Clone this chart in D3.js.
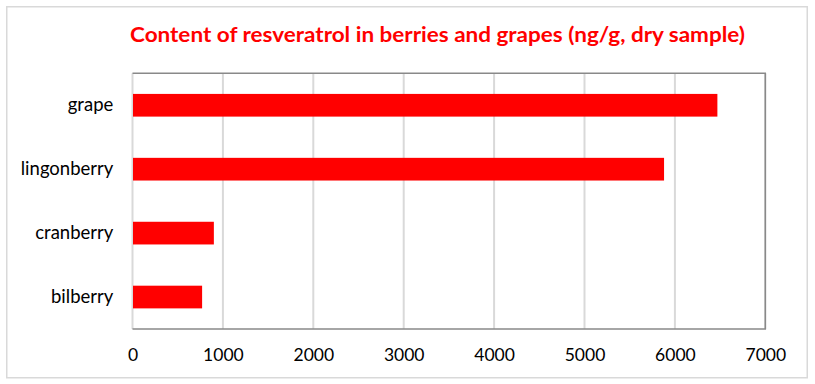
<!DOCTYPE html>
<html>
<head>
<meta charset="utf-8">
<script src="https://cdn.jsdelivr.net/npm/d3@7"></script>
<style>
  html, body { margin: 0; padding: 0; background: #fff; }
  svg { display: block; }
</style>
</head>
<body>
<svg id="chart" width="815" height="384"></svg>
<script>
// ---- data ----
const categories = ["grape", "lingonberry", "cranberry", "bilberry"];
const values = [6470, 5880, 900, 770];
const xTicks = [0, 1000, 2000, 3000, 4000, 5000, 6000, 7000];
const title = "Content of resveratrol in berries and grapes (ng/g, dry sample)";

const svg = d3.select("#chart");
const W = 815, H = 384;
const plot = { left: 132.5, right: 765.3, top: 73.3, bottom: 329 };

// outer border
svg.append("rect")
  .attr("x", 6.75).attr("y", 6.75)
  .attr("width", 800.5).attr("height", 371)
  .attr("fill", "#fff")
  .attr("stroke", "#d9d9d9").attr("stroke-width", 1.5);

// title
svg.append("text")
  .attr("x", 130).attr("y", 41.7)
  .attr("font-family", "Lato, 'Open Sans', sans-serif")
  .attr("font-weight", "bold")
  .attr("font-size", 21)
  .attr("fill", "#ff0000")
  .attr("textLength", 615)
  .attr("lengthAdjust", "spacingAndGlyphs")
  .text(title);

const x = d3.scaleLinear().domain([0, 7000]).range([plot.left, plot.right]);
const y = d3.scaleBand().domain(categories).range([plot.top, plot.bottom])
  .paddingInner(0.645).paddingOuter(0.3225);

// gridlines
svg.append("g").selectAll("line").data(xTicks).join("line")
  .attr("x1", d => x(d)).attr("x2", d => x(d))
  .attr("y1", plot.top).attr("y2", plot.bottom)
  .attr("stroke", "#d9d9d9").attr("stroke-width", 2);

// plot border top/right/bottom
svg.append("path")
  .attr("d", `M${plot.left},${plot.top}H${plot.right}V${plot.bottom}H${plot.left}`)
  .attr("fill", "none")
  .attr("stroke", "#898989").attr("stroke-width", 1.5);

// bars
svg.append("g").selectAll("rect").data(categories).join("rect")
  .attr("x", x(0) + 0.5)
  .attr("y", d => y(d))
  .attr("width", (d, i) => x(values[i]) - x(0) - 0.5)
  .attr("height", y.bandwidth())
  .attr("fill", "#ff0000");

// x axis labels
const xAxis = d3.axisBottom(x).tickValues(xTicks).tickSize(0).tickPadding(0).tickFormat(d3.format("d"));
const gx = svg.append("g").attr("transform", `translate(0,${plot.bottom})`).call(xAxis);
gx.select(".domain").remove();
gx.selectAll("text")
  .attr("dy", null)
  .attr("y", 32)
  .attr("font-family", "Lato, 'Open Sans', sans-serif")
  .attr("font-size", 17.5)
  .attr("fill", "#000");

// y axis labels
const yAxis = d3.axisLeft(y).tickSize(0).tickPadding(0);
const gy = svg.append("g").attr("transform", `translate(113.3,0)`).call(yAxis);
gy.select(".domain").remove();
gy.selectAll("text")
  .attr("dy", null)
  .attr("x", 0)
  .attr("y", 6.2)
  .attr("font-family", "Lato, 'Open Sans', sans-serif")
  .attr("font-size", 18.5)
  .attr("fill", "#000");
</script>
</body>
</html>
